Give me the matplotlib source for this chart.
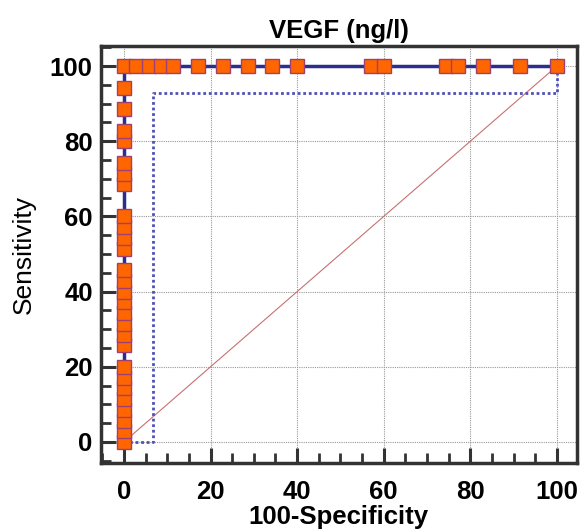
import matplotlib
matplotlib.use('Agg')
import matplotlib.pyplot as plt
import numpy as np
from matplotlib.ticker import MultipleLocator

plt.rcParams['font.family'] = ['Liberation Sans', 'DejaVu Sans']

# ROC criterion points (100-Specificity, Sensitivity)
sens_at_zero = [0, 2.86, 5.71, 8.57, 11.43, 14.29, 17.14, 20.0,
                25.71, 28.57, 31.43, 34.29, 37.14, 40.0, 42.86, 45.71,
                51.43, 54.29, 57.14, 60.0,
                68.57, 71.43, 74.29,
                80.0, 82.86, 88.57, 94.29]
fpr_at_full = [0, 2.86, 5.71, 8.57, 11.43, 17.14, 22.86, 28.57, 34.29, 40.0,
               57.14, 60.0, 74.29, 77.14, 82.86, 91.43, 100.0]

# lower confidence bound (dotted)
ci_x = [0, 6.7, 6.7, 100, 100]
ci_y = [0, 0, 92.8, 92.8, 100]

roc_x = [0] * len(sens_at_zero) + fpr_at_full
roc_y = sens_at_zero + [100] * len(fpr_at_full)

fig = plt.figure(figsize=(5.82, 5.31), dpi=100)
ax = fig.add_axes([0.1735, 0.128, 0.8175, 0.785])

ax.plot([0, 100], [0, 100], color='#C87070', lw=0.8, zorder=2)
ax.plot(ci_x, ci_y, color='#5050B8', lw=2, linestyle=(0, (1, 1)), zorder=2)
ax.plot([0, 0, 100], [0, 100, 100], color='#2B2E8C', lw=2.5, zorder=3)
ax.plot(roc_x, roc_y, linestyle='none', marker='s', ms=9.5,
        mfc='#FF6600', mec='#A0406F', mew=1, zorder=4)

ax.set_xlim(-5.3, 104.6)
ax.set_ylim(-5.6, 105.3)
ax.xaxis.set_major_locator(MultipleLocator(20))
ax.yaxis.set_major_locator(MultipleLocator(20))
ax.xaxis.set_minor_locator(MultipleLocator(5))
ax.yaxis.set_minor_locator(MultipleLocator(5))
ax.tick_params(which='major', direction='in', length=11, width=2.2, color='#333333',
               labelsize=18.5)
ax.tick_params(axis='x', which='major', pad=12)
ax.tick_params(axis='y', which='major', pad=6)
ax.tick_params(which='minor', direction='in', length=7, width=2.0, color='#333333')
for lab in ax.get_xticklabels() + ax.get_yticklabels():
    lab.set_fontweight('bold')

for s in ax.spines.values():
    s.set_linewidth(2.5)
    s.set_color('#333333')

ax.grid(True, which='major', color='#999999', linestyle=(0, (1, 1)), lw=0.8, zorder=0)
ax.set_axisbelow(True)

ax.set_title('VEGF (ng/l)', fontsize=18.5, fontweight='bold', pad=6)
ax.set_xlabel('100-Specificity', fontsize=18.5, fontweight='bold', labelpad=1)
ax.set_ylabel('Sensitivity', fontsize=19, labelpad=10)

fig.savefig('out.png', dpi=100)
